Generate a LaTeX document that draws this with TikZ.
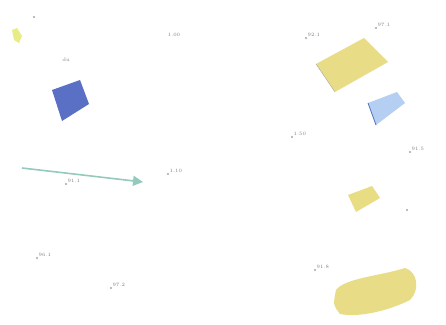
\documentclass[tikz,border=0pt]{standalone}
\usetikzlibrary{positioning,arrows.meta}
\definecolor{sandy}{HTML}{E9DC86}
\definecolor{lime}{HTML}{E3E86A}
\definecolor{slate}{HTML}{5A70C4}
\definecolor{sky}{HTML}{B4CFF2}
\definecolor{teal}{HTML}{94CABD}
\begin{document}
\begin{tikzpicture}
            [x=1pt, y=-1pt, lbl/.style={font=\fontsize{5}{5}\selectfont, text=gray, inner sep=0.5pt},
             dot/.style={circle, fill=gray!70, inner sep=0pt, minimum size=2.4pt}]
            \useasboundingbox[fill=white] (0,0) rectangle (446,324);

            % patches
            \fill[lime, opacity=0.8] (12,30) -- (17,28) -- (22,36) -- (19,43) -- (14,40) -- cycle;
            \fill[slate] (52,90) -- (80,80) -- (89,104) -- (62,121) -- cycle;
            \fill[sandy] (316,64) -- (364,38) -- (388,62) -- (335,92) -- cycle;
            \draw[gray!70, thin] (316,64) -- (335,92);
            \fill[sky] (368,103) -- (397,92) -- (405,103) -- (376,125) -- cycle;
            \draw[slate, thick] (368,103) -- (376,125);
            \fill[sandy!90!lime] (348,195) -- (372,186) -- (380,198) -- (356,212) -- cycle;
            \fill[sandy] (336,290) .. controls (345,278) and (380,276) .. (405,268)
                .. controls (418,272) and (420,290) .. (410,300)
                .. controls (390,310) and (360,318) .. (340,314)
                .. controls (333,305) .. (336,290);

            % labels
            \node[dot] (p0) at (34,17) {};
            \node[lbl] (du) at (66,60) {du};
            \node[lbl] (t1) at (174,35) {1.00};
            \node[dot] (p1) at (306,38) {};
            \node[lbl, above right=0pt and 0pt of p1] (t2) {92.1};
            \node[dot] (p2) at (376,28) {};
            \node[lbl, above right=0pt and 0pt of p2] (t3) {97.1};
            \node[dot] (p3) at (292,137) {};
            \node[lbl, above right=0pt and 0pt of p3] (t4) {1.50};
            \node[dot] (p4) at (410,152) {};
            \node[lbl, above right=0pt and 0pt of p4] (t5) {91.5};
            \node[dot] (p5) at (66,184) {};
            \node[lbl, above right=0pt and 0pt of p5] (t6) {91.1};
            \node[dot] (p6) at (168,174) {};
            \node[lbl, above right=0pt and 0pt of p6] (t7) {1.10};
            \node[dot] (p7) at (407,210) {};
            \node[dot] (p8) at (37,258) {};
            \node[lbl, above right=0pt and 0pt of p8] (t8) {96.1};
            \node[dot] (p9) at (111,288) {};
            \node[lbl, above right=0pt and 0pt of p9] (t9) {97.2};
            \node[dot] (p10) at (315,270) {};
            \node[lbl, above right=0pt and 0pt of p10] (t10) {91.8};

            % arrow
            \coordinate (a0) at (22,168);
            \coordinate (a1) at (143,182);
            \draw[teal, line width=1.6pt, -{Triangle[length=10pt,width=10pt]}] (a0) -- (a1);
         \end{tikzpicture}
\end{document}
